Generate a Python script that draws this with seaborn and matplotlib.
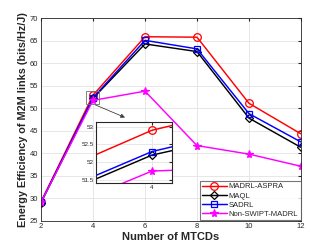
import numpy as np
import pandas as pd
import seaborn as sns
import matplotlib.pyplot as plt
from matplotlib.patches import Rectangle

mtcds = [2, 4, 6, 8, 10, 12]
madrl_aspra = [29.2, 52.9, 65.9, 65.8, 51.1, 44.3]
maql = [29.0, 52.2, 64.3, 62.6, 47.8, 41.3]
sadrl = [29.1, 52.3, 65.1, 63.2, 48.8, 42.5]
non_swipt = [29.1, 51.75, 53.8, 41.7, 39.8, 37.1]

names = ["MADRL-ASPRA", "MAQL", "SADRL", "Non-SWIPT-MADRL"]
colors = {"MADRL-ASPRA": "#ff0000", "MAQL": "#000000",
          "SADRL": "#0000ff", "Non-SWIPT-MADRL": "#ff00ff"}
marks = {"MADRL-ASPRA": "o", "MAQL": "D", "SADRL": "s", "Non-SWIPT-MADRL": "*"}
msize = {"MADRL-ASPRA": 5.5, "MAQL": 4.2, "SADRL": 4.5, "Non-SWIPT-MADRL": 5.8}

records = []
for name, vals in zip(names, [madrl_aspra, maql, sadrl, non_swipt]):
    for x, y in zip(mtcds, vals):
        records.append({"mtcds": x, "ee": y, "algo": name})
df = pd.DataFrame(records)

sns.set_style("white")
plt.rcParams["font.family"] = ["Liberation Sans", "DejaVu Sans"]
gray = "#262626"

fig = plt.figure(figsize=(3.32, 2.49), dpi=100)
ax = fig.add_axes([0.1235, 0.1137, 0.7831, 0.8128])


def draw(a, lw):
    sns.lineplot(data=df, x="mtcds", y="ee", hue="algo", style="algo",
                 palette=colors, markers=marks, dashes=False,
                 hue_order=names, style_order=names, ax=a, lw=lw,
                 legend=False)
    for line, name in zip(a.lines, names):
        line.set_markersize(msize[name])
        line.set_markeredgecolor(colors[name])
        line.set_markeredgewidth(0.9)
        if name == "Non-SWIPT-MADRL":
            line.set_markerfacecolor(colors[name])
        else:
            line.set_markerfacecolor("none")


draw(ax, 1.05)
ax.set_xlim(2, 12)
ax.set_ylim(25, 70)
ax.set_xticks(range(2, 13, 2))
ax.set_yticks(range(25, 71, 5))
ax.grid(True, color="#e3e3e3", lw=0.6)
ax.tick_params(direction="in", length=2.5, labelsize=5.5, colors=gray,
               top=True, right=True, pad=2)
for s in ax.spines.values():
    s.set_color(gray)
    s.set_linewidth(0.6)
ax.set_xlabel("Number of MTCDs", fontsize=8, fontweight="bold", color=gray, labelpad=1)
ax.set_ylabel("Energy Efficiency of M2M links (bits/Hz/J)", fontsize=7.8,
              fontweight="bold", color=gray, labelpad=1)

# zoom box and arrow
ax.add_patch(Rectangle((3.73, 51.0), 0.51, 2.9, fill=False, ec="#707070", lw=0.6, zorder=5))
ax.annotate("", xy=(5.33, 47.7), xytext=(3.99, 51.0),
            arrowprops=dict(arrowstyle="-|>", color="#404040", lw=0.6,
                            mutation_scale=6), zorder=5)

handles = [plt.Line2D([], [], color=colors[n], marker=marks[n], lw=1.05,
                      markersize=msize[n], markeredgewidth=0.9,
                      markerfacecolor=colors[n] if n == "Non-SWIPT-MADRL" else "none")
           for n in names]
leg = ax.legend(handles, names, loc="lower right", fontsize=5.5, frameon=True,
                fancybox=False, edgecolor="#555555", borderpad=0.3,
                handlelength=3.2, handletextpad=0.3, labelspacing=0.25,
                borderaxespad=0.05)
leg.get_frame().set_linewidth(0.8)

# inset
axin = fig.add_axes([0.288, 0.266, 0.229, 0.245])
draw(axin, 1.05)
axin.set_xlim(3.9417, 4.0204)
axin.set_ylim(51.42, 53.14)
axin.set_xticks([4])
axin.set_yticks([51.5, 52, 52.5, 53])
axin.set_yticklabels(["51.5", "52", "52.5", "53"])
axin.set_xlabel("")
axin.set_ylabel("")
axin.grid(True, color="#e3e3e3", lw=0.6)
axin.tick_params(direction="in", length=2, labelsize=4.5, colors=gray,
                 top=True, right=True, pad=1.5)
for s in axin.spines.values():
    s.set_color(gray)
    s.set_linewidth(0.8)

fig.savefig("out.png", dpi=100)
